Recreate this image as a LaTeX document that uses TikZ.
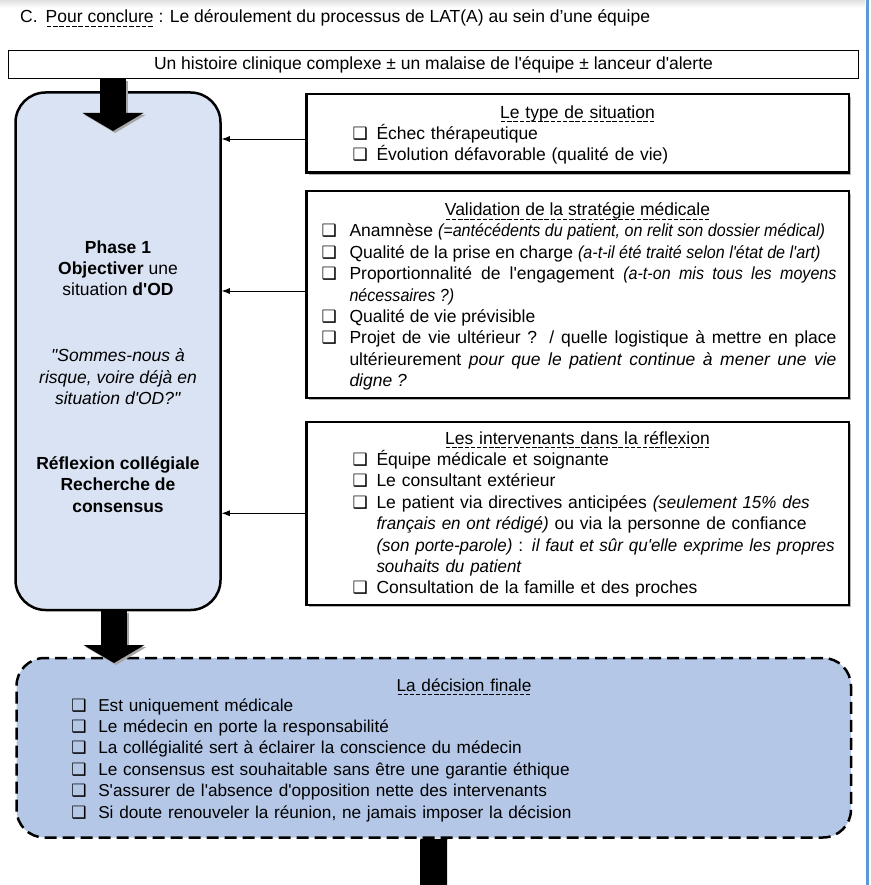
\documentclass[tikz,border=0pt]{standalone}
\usepackage{fontspec}
\setmainfont{Liberation Sans}[Ligatures=TeXOff]
\newfontfamily\symfont{DejaVu Sans}
\newfontfamily\narrowfont{Liberation Sans}[Ligatures=TeXOff, FakeStretch=0.92]
\newfontfamily\slimfont{Liberation Sans}[Ligatures=TeXOff, FakeStretch=0.97]
\usetikzlibrary{arrows.meta,positioning,shadows}

\definecolor{phaseblue}{HTML}{DAE3F3}
\definecolor{finalblue}{HTML}{B4C7E7}
\definecolor{pageblue}{HTML}{5B9BD5}

\hyphenpenalty=10000
\exhyphenpenalty=10000

% dashed underline for the headings
\newsavebox{\undbox}
\newcommand{\dashund}[1]{\sbox{\undbox}{#1}\rlap{\raisebox{-3.9pt}[0pt][0pt]{\hbox to \wd\undbox{\xleaders\hbox{\kern.05em\rule{.25em}{.9pt}\kern.05em}\hfill}}}\usebox{\undbox}}
% condensed italic remarks
\newcommand{\remark}[1]{{\narrowfont\itshape #1}}
\newcommand{\aside}[1]{{\slimfont\itshape #1}}

% check-box items
\newlength{\itmhang}
\newcommand{\bul}{{\symfont\fontsize{17}{17}\selectfont ❑}}
\newcommand{\itm}[1]{\par\hangindent=\itmhang\hangafter=1\noindent\makebox[\itmhang][l]{\bul}#1}
\newcommand{\listfmt}[3]{\par\setlength{\leftskip}{#1}\setlength{\rightskip}{#2}\setlength{\itmhang}{#3}}

\tikzset{
  sidebox/.style={draw, fill=white, line width=2.5pt, minimum width=542.5pt, inner sep=0pt,
    drop shadow={shadow xshift=2.5pt, shadow yshift=-2.5pt, fill=black!30, opacity=1}},
  boxtext/.style={text width=542pt, inner sep=0pt, align=left},
  phasebox/.style={draw, line width=2.5pt, rounded corners=30pt, fill=phaseblue,
    minimum width=205pt, minimum height=517.5pt, inner sep=0pt},
  finalbox/.style={draw, line width=2.5pt, dash pattern=on 12pt off 6pt, rounded corners=28pt,
    fill=finalblue, minimum width=834.5pt, minimum height=179.5pt, inner sep=0pt},
  feed/.style={-{Latex[length=8pt,width=6pt]}, line width=0.8pt},
  bigarrow/.style={line width=26pt, -{Triangle[length=18pt,width=61pt,line width=0pt]}},
}

\begin{document}
\begin{tikzpicture}[x=1pt, y=-1pt, font=\fontsize{17.5}{21.4}\selectfont]
  \useasboundingbox (0,0) rectangle (870,885);
  % page edges
  \fill[top color=black!12, bottom color=white] (0,0) rectangle (865,8);
  \fill[pageblue] (865.5,0) rectangle (868.5,885);

  \node (title) [anchor=base west, inner sep=0pt] at (20,23)
    {C.\hspace{8pt}\dashund{Pour conclure} : Le déroulement du processus de LAT(A) au sein d’une équipe};

  \node (intro) [draw, line width=1.2pt, minimum width=850pt, minimum height=28pt, inner sep=0pt] at (433.5,64.5)
    {Un histoire clinique complexe ± un malaise de l'équipe ± lanceur d'alerte};

  % phase 1
  \node (phase) [phasebox] at (118,351.25) {};
  \node (phasetxt) [anchor=north, align=center, inner sep=0pt] at (118,240.2) {%
    \textbf{Phase 1}\\
    \textbf{Objectiver} une\\
    situation \textbf{d'OD}\\[44.5pt]
    \textit{"Sommes-nous à}\\
    \textit{risque, voire déjà en}\\
    \textit{situation d'OD?"}\\[43.5pt]
    \textbf{Réflexion collégiale}\\
    \textbf{Recherche de}\\
    \textbf{consensus}};

  % right column
  \node (sit) [sidebox, minimum height=78.5pt] at (577.5,133.5) {};
  \node (sittxt) [boxtext, below=12.25pt of sit.north] {%
    {\centering\dashund{Le type de situation}\par}
    \listfmt{46pt}{0pt plus 1fil}{24pt}
    \itm{Échec thérapeutique}
    \itm{Évolution défavorable (qualité de vie)}\par};

  \node (valid) [sidebox, minimum height=206.5pt] at (577.5,294.5) {};
  \node (validtxt) [boxtext, align=justify, below=12.5pt of valid.north] {%
    {\centering\dashund{Validation de la stratégie médicale}\par}
    \listfmt{15pt}{12pt}{28pt}
    \itm{Anamnèse \remark{(=antécédents du patient, on relit son dossier médical)}}
    \itm{Qualité de la prise en charge \remark{(a-t-il été traité selon l'état de l'art)}}
    \itm{Proportionnalité de l'engagement \remark{(a-t-on mis tous les moyens}\linebreak \remark{nécessaires~?)}}
    \itm{Qualité de vie prévisible}
    \itm{Projet de vie ultérieur ? / quelle logistique à mettre en place\linebreak ultérieurement \textit{pour que le patient continue à mener une vie}\linebreak \textit{digne~?}}\par};

  \node (interv) [sidebox, minimum height=183pt] at (577.5,513.25) {};
  \node (intervtxt) [boxtext, below=10.5pt of interv.north] {%
    {\centering\dashund{Les intervenants dans la réflexion}\par}
    \listfmt{46pt}{0pt plus 1fil}{24pt}
    \itm{Équipe médicale et soignante}
    \itm{Le consultant extérieur}
    \itm{Le patient via directives anticipées \aside{(seulement 15\% des}\newline
      \aside{français en ont rédigé)} ou via la personne de confiance\newline
      \aside{(son porte-parole)} : \aside{il faut et sûr qu'elle exprime les propres}\newline
      \aside{souhaits du patient}}
    \itm{Consultation de la famille et des proches}\par};

  \draw[feed] ([yshift=-5.5pt]sit.west) -- ([yshift=-5.5pt]sit.west -| phase.east);
  \draw[feed] ([yshift=3.5pt]valid.west) -- ([yshift=3.5pt]valid.west -| phase.east);
  \draw[feed] (interv.west) -- (interv.west -| phase.east);

  % final decision
  \node (final) [finalbox] at (433.75,747.75) {};
  \node (finaltxt) [boxtext, text width=834pt, below=21.5pt of final.north,
                    font=\fontsize{17.2}{21.4}\selectfont] {%
    {\centering\hspace*{60.5pt}\dashund{La décision finale}\par}
    \vspace{-1.4pt}
    \listfmt{54.5pt}{0pt plus 1fil}{27pt}
    \itm{Est uniquement médicale}
    \itm{Le médecin en porte la responsabilité}
    \itm{La collégialité sert à éclairer la conscience du médecin}
    \itm{Le consensus est souhaitable sans être une garantie éthique}
    \itm{S'assurer de l'absence d'opposition nette des intervenants}
    \itm{Si doute renouveler la réunion, ne jamais imposer la décision}\par};

  % block arrows
  \coordinate (in1) at (113,131);
  \coordinate (in2) at (114,663);
  \coordinate (out3) at (433.5,885);
  \draw[bigarrow, black!35] ([xshift=2pt,yshift=-2pt]intro.south -| in1) -- ([xshift=2pt,yshift=-2pt]in1);
  \draw[bigarrow] (intro.south -| in1) -- (in1);
  \draw[bigarrow, black!35] ([xshift=2pt,yshift=-2pt]phase.south -| in2) -- ([xshift=2pt,yshift=-2pt]in2);
  \draw[bigarrow] (phase.south -| in2) -- (in2);
  \draw[line width=27pt] (final.south) -- (out3);
\end{tikzpicture}
\end{document}
